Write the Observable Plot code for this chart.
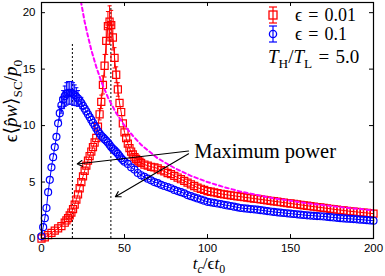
<!DOCTYPE html>
<html><head><meta charset="utf-8">
<script src="https://cdn.jsdelivr.net/npm/d3@7"></script>
<script src="https://cdn.jsdelivr.net/npm/@observablehq/plot@0.6"></script>
<style>body{margin:0;background:#fff}</style>
</head><body><div id="chart"></div>
<script>
// ε = 0.1 (blue circles)
const blueX = [0,1,2,3,4,5,6,7,8,9,10,11,12,13,14,15,16,17,18,19,20,
  21,22,23,24,25,26,27,28,29,30,31,32,33,34,35,36,37,38,39,40,41,42,43,44,45,46,47,48,49,50,
  52,54,56,58,60,62,64,66,68,70,72,74,76,78,80,
  82,84,86,88,90,92,94,96,98,100,102,104,106,108,110,112,114,116,118,120,122,124,126,128,130,
  132,134,136,138,140,142,144,146,148,150,152,154,156,158,160,162,164,166,168,170,172,174,176,178,180,
  182,184,186,188,190,192,194,196,198,200];
const blueY = [0.2,1.0,1.8,2.7,4.1,5.2,6.3,7.2,8.1,9.0,10.2,11.1,11.8,12.3,12.6,12.8,12.9,12.9,12.9,12.8,12.7,
  12.55,12.4,12.2,12.0,11.75,11.5,11.25,11.0,10.75,10.5,10.25,10.0,9.75,9.5,9.3,9.1,8.95,8.8,8.65,8.5,8.3,8.1,7.95,7.8,7.65,7.5,7.3,7.1,6.95,6.8,
  6.6,6.3,6.1,5.8,5.6,5.45,5.3,5.15,5.0,4.9,4.75,4.65,4.55,4.45,4.3,
  4.2,4.1,4.0,3.85,3.75,3.65,3.55,3.45,3.35,3.25,3.2,3.15,3.1,3.05,2.98,2.93,2.88,2.82,2.76,2.7,2.67,2.64,2.61,2.58,2.55,
  2.51,2.47,2.43,2.39,2.35,2.32,2.29,2.26,2.23,2.2,2.17,2.14,2.11,2.08,2.05,2.03,2.01,1.99,1.97,1.95,1.92,1.89,1.86,1.83,1.8,
  1.78,1.76,1.74,1.72,1.7,1.67,1.65,1.62,1.6,1.57];
const blueErrX = [11,12,13,14,15,16,17,18,19,20,21,22,24];
const blueErr  = [0.6,0.7,0.8,0.9,1.0,1.0,1.0,1.0,1.0,0.9,0.8,0.7,0.5];

// ε = 0.01 (red squares)
const redX = [0,2,4,6,8,10,12,14,15,16,17,18,19,20,21,22,23,24,25,26,27,28,29,30,
  31,32,33,34,35,36,37,38,39,40,41,42,43,44,45,46,47,48,49,50,51,52,
  53,54,55,56,57,58,59,60,62,64,66,68,70,72,74,76,78,80,82,84,86,88,90,92,94,96,98,100,
  102,104,106,108,110,112,114,116,118,120,122,124,126,128,130,132,134,136,138,140,
  142,144,146,148,150,152,154,156,158,160,162,164,166,168,170,172,174,176,178,180,
  182,184,186,188,190,192,194,196,198,200];
const redY = [0.0,0.1,0.3,0.5,0.7,0.9,1.1,1.4,1.6,1.8,2.05,2.3,2.6,3.0,3.45,3.9,4.45,5.0,5.5,6.0,6.45,6.9,7.3,7.7,
  8.1,8.5,8.9,9.9,11.0,12.1,13.6,15.3,17.5,18.8,19.2,18.9,17.8,16.0,14.5,13.2,12.0,11.2,10.2,9.4,8.9,8.4,
  8.0,7.7,7.45,7.2,7.05,6.9,6.8,6.7,6.55,6.45,6.35,6.3,6.2,6.05,5.95,5.8,5.7,5.55,5.4,5.25,5.1,4.95,4.8,4.65,4.5,4.4,4.3,4.2,
  4.14,4.08,4.02,3.96,3.9,3.86,3.82,3.78,3.74,3.7,3.66,3.62,3.58,3.54,3.5,3.46,3.42,3.38,3.34,3.3,
  3.26,3.22,3.18,3.14,3.1,3.06,3.02,2.98,2.94,2.9,2.86,2.82,2.78,2.75,2.71,2.67,2.63,2.59,2.55,2.52,
  2.48,2.44,2.41,2.38,2.35,2.32,2.29,2.26,2.23,2.2];
const redErrX = [35,36,37,38,39,40,41,42,43,44,45,46];
const redErr  = [0.5,0.6,0.8,1.0,1.2,1.3,1.4,1.3,1.1,0.9,0.7,0.6];

// magenta dashed curve
const magX = [20,22,24,26,28,30,33,36,40,45,50,55,60,70,80,90,100,110,120,130,140,150,160,170,180,190,200];
const magY = [25,22.7,20.8,19.2,17.9,16.7,15.2,13.9,12.5,11.1,10.0,9.1,8.3,7.1,6.25,5.55,5.0,4.55,4.15,3.85,3.55,3.35,3.12,2.95,2.78,2.63,2.5];

// maximum-power positions
const maxPowerX = [18.6, 41.8];
const maxPowerTop = [17.3, 20.6];

const xTicks = [0,50,100,150,200];
const yTicks = [0,5,10,15,20];

const blue = blueX.map((x,i)=>({x, y: blueY[i]}));
const red = redX.map((x,i)=>({x, y: redY[i]}));
const mag = magX.map((x,i)=>({x, y: magY[i]}));
const blueE = blueErrX.map((x,i)=>({x, y: blueY[blueX.indexOf(x)], e: blueErr[i]}));
const redE = redErrX.map((x,i)=>({x, y: redY[redX.indexOf(x)], e: redErr[i]}));
const vlines = maxPowerX.map((x,i)=>({x, top: maxPowerTop[i]}));
const arrows = [{x1: 88.6, y1: 7.75, x2: 21.5, y2: 6.6}, {x1: 88.6, y1: 7.5, x2: 44.5, y2: 3.7}];
const note = [{x: 92, y: 7.7, t: "Maximum power"}];

const YMAX = 20.9;
const serif = "'Liberation Serif','DejaVu Serif',serif";

const chart = Plot.plot({
  width: 385, height: 276,
  marginLeft: 41, marginRight: 12, marginTop: 2, marginBottom: 38,
  x: {domain: [0, 200]},
  y: {domain: [0, YMAX]},
  style: {fontFamily: "'Liberation Sans',Arial,sans-serif", fontSize: "11.5px", background: "white", color: "black"},
  marks: [
    Plot.ruleX(vlines, {x: "x", y1: 0, y2: "top", stroke: "black", strokeWidth: 1, strokeDasharray: "2,2"}),
    // red
    Plot.line(red, {x: "x", y: "y", stroke: "#ff0000", strokeWidth: 1}),
    Plot.ruleX(redE, {x: "x", y1: d => d.y - d.e, y2: d => d.y + d.e, stroke: "#ff0000", strokeWidth: 1}),
    Plot.link(redE, {x1: d => d.x - 1.2, x2: d => d.x + 1.2, y1: d => d.y + d.e, y2: d => d.y + d.e, stroke: "#ff0000", strokeWidth: 1}),
    Plot.link(redE, {x1: d => d.x - 1.2, x2: d => d.x + 1.2, y1: d => d.y - d.e, y2: d => d.y - d.e, stroke: "#ff0000", strokeWidth: 1}),
    Plot.dot(red, {x: "x", y: "y", symbol: "square", r: 4, stroke: "#ff0000", strokeWidth: 1.2, fill: "none"}),
    // blue
    Plot.line(blue, {x: "x", y: "y", stroke: "#0000ff", strokeWidth: 1}),
    Plot.ruleX(blueE, {x: "x", y1: d => d.y - d.e, y2: d => d.y + d.e, stroke: "#0000ff", strokeWidth: 1}),
    Plot.link(blueE, {x1: d => d.x - 1.2, x2: d => d.x + 1.2, y1: d => d.y + d.e, y2: d => d.y + d.e, stroke: "#0000ff", strokeWidth: 1}),
    Plot.link(blueE, {x1: d => d.x - 1.2, x2: d => d.x + 1.2, y1: d => d.y - d.e, y2: d => d.y - d.e, stroke: "#0000ff", strokeWidth: 1}),
    Plot.dot(blue, {x: "x", y: "y", r: 3.5, stroke: "#0000ff", strokeWidth: 1.2, fill: "none"}),
    // magenta dashed
    Plot.line(mag, {x: "x", y: "y", stroke: "#ff00ff", strokeWidth: 2, strokeDasharray: "3.5,3", clip: true}),
    // annotation
    Plot.arrow(arrows, {x1: "x1", y1: "y1", x2: "x2", y2: "y2", stroke: "black", strokeWidth: 1.1, headLength: 8, bend: 0}),
    Plot.text(note, {x: "x", y: "y", text: "t", textAnchor: "start", fontSize: 20.5, fontFamily: serif, fill: "black"}),
    // inward ticks on all sides
    Plot.ruleX(xTicks, {y1: 0, y2: 0.35, stroke: "black"}),
    Plot.ruleX(xTicks, {y1: YMAX - 0.35, y2: YMAX, stroke: "black"}),
    Plot.ruleY(yTicks, {x1: 0, x2: 2.4, stroke: "black"}),
    Plot.ruleY(yTicks, {x1: 197.6, x2: 200, stroke: "black"}),
    Plot.axisX(xTicks, {tickSize: 0, tickPadding: 5, label: null}),
    Plot.axisY(yTicks, {tickSize: 0, tickPadding: 6, label: null}),
    Plot.frame({stroke: "black", strokeWidth: 1.2})
  ]
});
document.getElementById("chart").appendChild(chart);

// math-style text labels
const svg = d3.select(chart);
function mathText(g, parts, size, anchor) {
  const t = g.append("text").attr("font-family", serif).attr("font-size", size).attr("fill", "black")
    .attr("text-anchor", anchor || "start");
  let shift = 0;
  for (const p of parts) {
    const s = t.append("tspan").text(p.t);
    if (p.i) s.attr("font-style", "italic");
    const want = p.sub ? size * 0.25 : 0;
    const dy = want - shift;
    if (dy) s.attr("dy", dy);
    shift = want;
    if (p.sub) s.attr("font-size", size * 0.7);
  }
  return t;
}
// x label
mathText(svg.append("g").attr("transform", "translate(209,269)"), [
  {t: "t", i: true}, {t: "c", i: true, sub: true}, {t: "/"}, {t: "ϵ"}, {t: "t", i: true}, {t: "0", sub: true}
], 17, "middle");
// y label
mathText(svg.append("g").attr("transform", "translate(17,101) rotate(-90)"), [
  {t: "ϵ"}, {t: "⟨"}, {t: "p̂", i: true}, {t: "w", i: true}, {t: "⟩"}, {t: "SC", sub: true}, {t: "/"}, {t: "p", i: true}, {t: "0", sub: true}
], 19, "middle");

// legend
const lg = svg.append("g");
function errSym(y, color, circle) {
  lg.append("line").attr("x1", 273).attr("x2", 273).attr("y1", y - 8).attr("y2", y + 8).attr("stroke", color).attr("stroke-width", 1.2);
  lg.append("line").attr("x1", 269).attr("x2", 277).attr("y1", y - 8).attr("y2", y - 8).attr("stroke", color).attr("stroke-width", 1.2);
  lg.append("line").attr("x1", 269).attr("x2", 277).attr("y1", y + 8).attr("y2", y + 8).attr("stroke", color).attr("stroke-width", 1.2);
  if (circle) lg.append("circle").attr("cx", 273).attr("cy", y).attr("r", 3.6).attr("fill", "none").attr("stroke", color).attr("stroke-width", 1.3);
  else lg.append("rect").attr("x", 269).attr("y", y - 4).attr("width", 8).attr("height", 8).attr("fill", "none").attr("stroke", color).attr("stroke-width", 1.3);
}
errSym(15, "#ff0000", false);
errSym(34, "#0000ff", true);
const sp = "\u2004";
mathText(lg.append("g").attr("transform", "translate(295,21)"), [{t: "ϵ" + sp + "=" + sp + "0.01"}], 18, "start");
mathText(lg.append("g").attr("transform", "translate(295,40)"), [{t: "ϵ" + sp + "=" + sp + "0.1"}], 18, "start");
mathText(lg.append("g").attr("transform", "translate(268,63)"), [
  {t: "T", i: true}, {t: "H", sub: true}, {t: "/"}, {t: "T", i: true}, {t: "L", sub: true}, {t: sp + "=" + sp + "5.0"}
], 19, "start");
</script>
</body></html>
